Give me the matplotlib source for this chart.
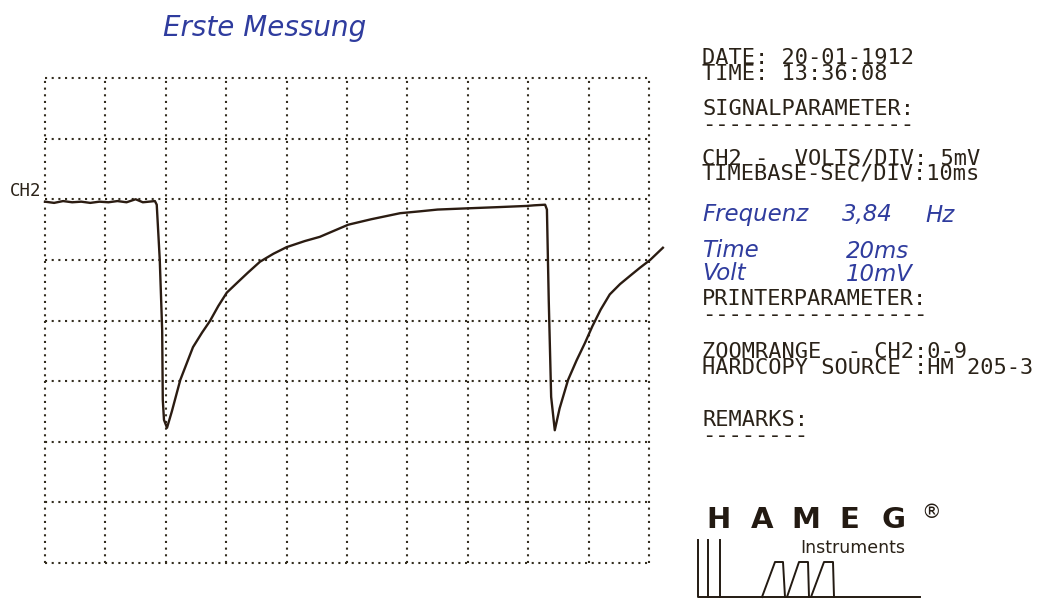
import numpy as np
import matplotlib.pyplot as plt
from matplotlib.lines import Line2D

# Oszilloskop-Ausdruck (HM 205-3), CH2, 5 mV/DIV, 10 ms/DIV
# Messwerte in Skalenteilen (DIV): Zeit nach rechts, Spannung von unten
t_div = [0.00, 0.15, 0.30, 0.45, 0.60, 0.75, 0.90, 1.05, 1.20, 1.35, 1.50, 1.62, 1.72, 1.82,
         1.85, 1.90, 1.94, 1.95, 1.97, 2.02,
         2.10, 2.24, 2.45, 2.60, 2.73, 2.87, 3.01, 3.20, 3.36, 3.56, 3.78, 4.00, 4.30, 4.55,
         5.02, 5.40, 5.88, 6.20, 6.50, 6.99, 7.50, 7.98, 8.10, 8.28,
         8.31, 8.34, 8.38, 8.44,
         8.52, 8.66, 8.80, 8.94, 9.06, 9.20, 9.35, 9.52, 9.69, 9.85, 10.02, 10.23]
u_div = [5.96, 5.94, 5.97, 5.95, 5.96, 5.94, 5.96, 5.95, 5.97, 5.95, 6.00, 5.95, 5.96, 5.97,
         5.91, 5.00, 3.84, 2.69, 2.36, 2.23,
         2.50, 3.02, 3.56, 3.80, 3.99, 4.24, 4.46, 4.64, 4.79, 4.97, 5.10, 5.21, 5.31, 5.38,
         5.58, 5.67, 5.77, 5.80, 5.83, 5.85, 5.87, 5.89, 5.90, 5.91,
         5.83, 4.34, 2.74, 2.19,
         2.55, 3.02, 3.34, 3.63, 3.90, 4.18, 4.43, 4.60, 4.74, 4.87, 5.00, 5.20]

n_xdiv = 10
n_ydiv = 8

# Druckertext rechts: (Zeilen, y-Position der Blockmitte in Pixel)
printer_blocks = [
    ("DATE: 20-01-1912\nTIME: 13:36:08", 66),
    ("SIGNALPARAMETER:\n----------------", 117),
    ("CH2 -  VOLTS/DIV: 5mV\nTIMEBASE-SEC/DIV:10ms", 166),
    ("PRINTERPARAMETER:\n-----------------", 307),
    ("ZOOMRANGE  - CH2:0-9\nHARDCOPY SOURCE :HM 205-3", 360),
    ("REMARKS:\n--------", 428),
]

# handschriftliche Notizen: (Text, x, y) in Pixel
notes = [
    ("Frequenz", 702, 215),
    ("3,84", 842, 215),
    ("Hz", 925, 215),
    ("Time\nVolt", 702, 262),
    ("20ms\n10mV", 846, 263),
]
title_note = "Erste Messung"

# Logo-Signal unter dem Schriftzug
logo_x = [698, 698, 920]
logo_y = [540, 597, 597]
pulse_x = [762, 775, 783, 785, 787, 799, 808, 809, 811, 824, 833, 834]
pulse_y = [597, 562, 562, 597, 597, 562, 562, 597, 597, 562, 562, 597]

W, H = 1040, 601
ink = '#2a2218'
blue = '#2f3c9e'

fig = plt.figure(figsize=(W / 100, H / 100), dpi=100)
fig.patch.set_facecolor('white')


def px(x, y):
    return x / W, 1 - y / H


ax = fig.add_axes([45 / W, (H - 563) / H, 604 / W, 485 / H])
ax.set_xlim(0, n_xdiv)
ax.set_ylim(0, n_ydiv)
ax.set_xticks(np.arange(n_xdiv + 1))
ax.set_yticks(np.arange(n_ydiv + 1))
ax.tick_params(length=0, labelbottom=False, labelleft=False)
for s in ax.spines.values():
    s.set_visible(False)
ax.grid(True, color='#332d1f', linestyle=(0, (1, 2.2)), linewidth=1.5)
for gl in ax.get_xgridlines() + ax.get_ygridlines():
    gl.set_clip_on(False)

ax.plot(t_div, u_div, color='#2b1c12', linewidth=1.7, clip_on=False,
        solid_joinstyle='round', zorder=3)
ax.text(-0.06, u_div[0] + 0.02, 'CH2', ha='right', va='bottom', fontsize=12.5,
        family='DejaVu Sans Mono', color=ink)

for txt, y in printer_blocks:
    x0, y0 = px(702, y)
    fig.text(x0, y0, txt, ha='left', va='center', family='DejaVu Sans Mono',
             fontsize=15.8, linespacing=0.74, color=ink)

fig.text(*px(163, 28), title_note, ha='left', va='center', family='DejaVu Sans',
         style='italic', fontsize=20, color=blue)
for txt, x, y in notes:
    x0, y0 = px(x, y)
    fig.text(x0, y0, txt, ha='left', va='center', family='DejaVu Sans',
             style='italic', fontsize=16.5, linespacing=0.95, color=blue)

# HAMEG-Schriftzug
for i, ch in enumerate("HAMEG"):
    x0, y0 = px(697 + 218 / 5 * (i + 0.5), 520)
    fig.text(x0, y0, ch, ha='center', va='center', family='DejaVu Sans',
             weight='bold', fontsize=21, color='#231a12')
fig.text(*px(931, 513), '®', ha='center', va='center', fontsize=14, color='#231a12')
fig.text(*px(800, 548), 'Instruments', ha='left', va='center', family='DejaVu Sans',
         fontsize=12.5, color=ink)

for xs, ys in [(logo_x, logo_y), ([708, 708], [540, 597]), ([720, 720], [540, 597]),
               (pulse_x, pulse_y)]:
    fig.add_artist(Line2D([x / W for x in xs], [1 - y / H for y in ys],
                          color='#231a12', linewidth=1.4))

fig.savefig('out.png', dpi=100, facecolor='white')
